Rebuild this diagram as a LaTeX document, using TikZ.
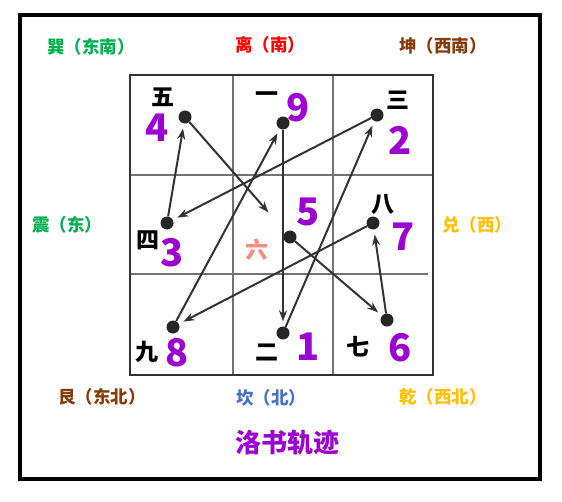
\documentclass[tikz,border=0pt]{standalone}
\usepackage{fontspec}
\newfontfamily\cjk{Noto Sans CJK SC}
\usepackage{tikz}
\usetikzlibrary{arrows.meta}
\usetikzlibrary{positioning}

\definecolor{lsgreen}{HTML}{00B050}
\definecolor{lsred}{HTML}{FF0000}
\definecolor{lsbrown}{HTML}{843C0C}
\definecolor{lsyellow}{HTML}{FFC000}
\definecolor{lsblue}{HTML}{4472C4}
\definecolor{lspurple}{HTML}{9B00D0}
\definecolor{lssalmon}{HTML}{F88A82}

\begin{document}
\begin{tikzpicture}[x=1pt,y=-1pt,>={Stealth[length=11pt,width=8pt]},shorten >=5pt,
	dot node/.style={circle,fill=black!85,inner sep=0pt,minimum size=13pt},
	num node/.style={text=lspurple,inner sep=0pt,font=\cjk\bfseries\fontsize{38}{38}\selectfont},
	cn node/.style={inner sep=0pt,font=\cjk\bfseries\fontsize{23}{23}\selectfont},
	dir node/.style={inner sep=0pt,font=\cjk\bfseries\fontsize{17.5}{17.5}\selectfont}]
	
	\useasboundingbox (0,0) rectangle (562,501);
	\draw[line width=3.5pt] (20,15) rectangle (540,479);
	
	% grid
	\draw[line width=1.3pt,black!55] (233,75) -- (233,375) (333,75) -- (333,375)
	(130,175) -- (433,175) (130,274) -- (433,274);
	\draw[line width=2.6pt,black!80] (130,75) rectangle (433,375);
	
	% dots
	\node[dot node] (p4) at (185,117) {};
	\node[dot node] (p9) at (283,123) {};
	\node[dot node] (p2) at (377,115) {};
	\node[dot node] (p3) at (167,223) {};
	\node[dot node] (p5) at (290,237) {};
	\node[dot node] (p7) at (373,223) {};
	\node[dot node] (p8) at (173,327) {};
	\node[dot node] (p1) at (283,333) {};
	\node[dot node] (p6) at (387,320) {};
	
	% numbers
	\node[num node] (n4) at (157,128) {4};
	\node[num node] (n9) at (298,108) {9};
	\node[num node] (n2) at (400,140) {2};
	\node[num node] (n3) at (172,253) {3};
	\node[num node] (n5) at (308,212) {5};
	\node[num node] (n7) at (403,237) {7};
	\node[num node] (n8) at (177,353) {8};
	\node[num node] (n1) at (308,347) {1};
	\node[num node] (n6) at (400,348) {6};
	
	\node[cn node] (c5) at (163,97) {五};
	\node[cn node] (c1) at (267,97) {一};
	\node[cn node] (c3) at (398,100) {三};
	\node[cn node] (c4) at (148,240) {四};
	\node[cn node,text=lssalmon] (c6) at (257,250) {六};
	\node[cn node] (c8) at (383,205) {八};
	\node[cn node] (c9) at (147,352) {九};
	\node[cn node] (c2) at (267,352) {二};
	\node[cn node] (c7) at (358,347) {七};
	
	% directions
	\node[dir node,text=lsgreen] (xun) at (91,47) {巽（东南）};
	\node[dir node,text=lsred] (li) at (270,45) {离（南）};
	\node[dir node,text=lsbrown] (kun) at (443,46) {坤（西南）};
	\node[dir node,text=lsgreen] (zhen) at (67,225) {震（东）};
	\node[dir node,text=lsyellow] (dui) at (477,225) {兑（西）};
	\node[dir node,text=lsbrown] (gen) at (102,397) {艮（东北）};
	\node[dir node,text=lsblue] (kan) at (271,398) {坎（北）};
	\node[dir node,text=lsyellow] (qian) at (443,397) {乾（西北）};
	\node[inner sep=0pt,text=lspurple,font=\cjk\bfseries\fontsize{26}{26}\selectfont] (title) at (287,443) {洛书轨迹};
	
	\path[->,line width=2pt,draw=black!80]
	(p1) edge (p2)
	(p2) edge (p3)
	(p3) edge (p4)
	(p4) edge [shorten >=26pt] (p5)
	(p5) edge (p6)
	(p6) edge (p7)
	(p7) edge (p8)
	(p8) edge (p9)
	(p9) edge (p1);
\end{tikzpicture}
\end{document}
